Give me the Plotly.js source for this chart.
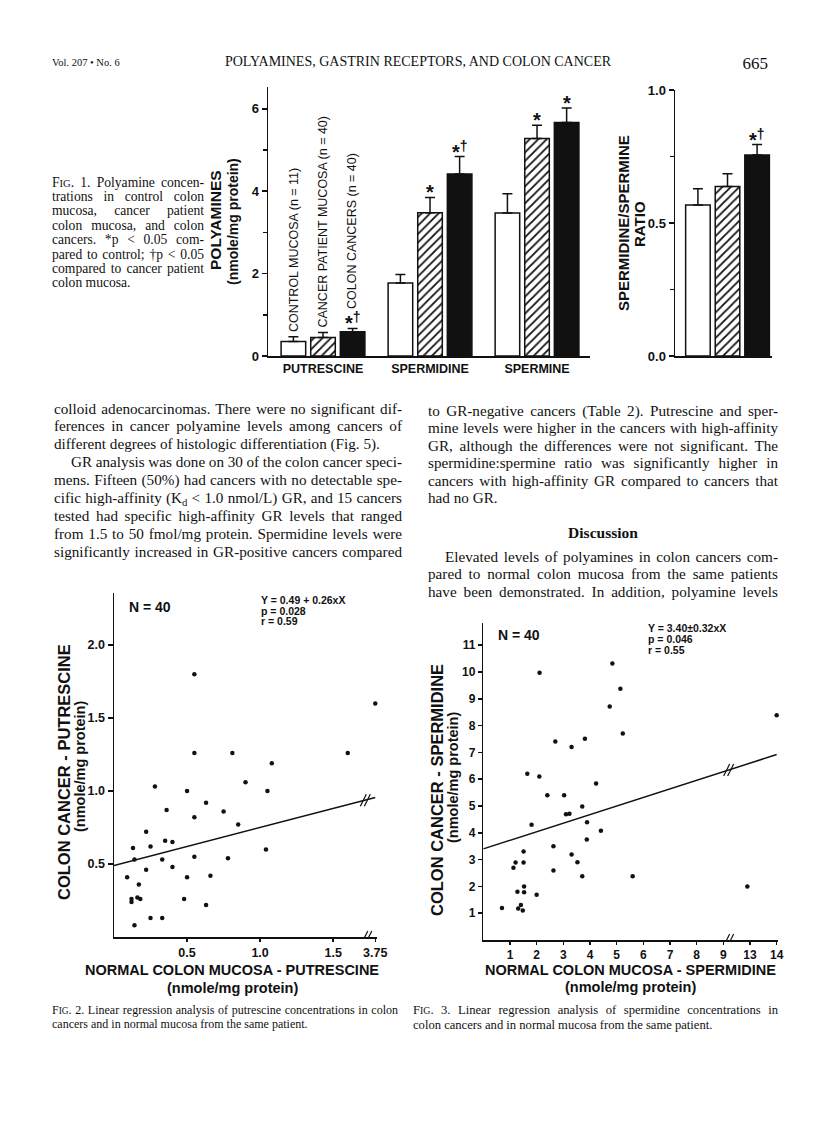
<!DOCTYPE html>
<html>
<head>
<meta charset="utf-8">
<script src="https://cdn.plot.ly/plotly-3.0.1.min.js"></script>
<style>
  body { margin: 0; background: #fff; }
  #page { position: relative; width: 816px; height: 1134px; overflow: hidden; background: #fff; }
  #plot { position: absolute; left: 0; top: 0; width: 816px; height: 1134px; }
  .ln { position: absolute; font-family: 'Liberation Serif', 'Times New Roman', serif; color: #111; white-space: nowrap; }
  .sc { font-size: 78%; }
  sub { font-size: 70%; line-height: 0; vertical-align: -0.25em; }
</style>
</head>
<body>
<div id="page"><div id="plot"></div></div>
<script>
// Fig. 1 - polyamine levels (nmole/mg protein), mean and upper error
var polyCats = ['PUTRESCINE', 'SPERMIDINE', 'SPERMINE'];
var groupNames = ['CONTROL MUCOSA (n = 11)', 'CANCER PATIENT MUCOSA (n = 40)', 'COLON CANCERS (n = 40)'];
var controlMean = [0.35, 1.77, 3.47];
var controlErr = [0.12, 0.21, 0.47];
var controlSig = ['', '', ''];
var patientMean = [0.45, 3.48, 5.28];
var patientErr = [0.12, 0.37, 0.32];
var patientSig = ['', '*', '*'];
var cancerMean = [0.59, 4.42, 5.67];
var cancerErr = [0.08, 0.42, 0.35];
var cancerSig = ['*†', '*†', '*'];

// Fig. 1 - spermidine/spermine ratio
var ratioCat = ['RATIO'];
var ratioMean = [0.568, 0.637, 0.756];
var ratioErr = [0.061, 0.048, 0.039];
var ratioSig = ['', '', '*†'];

// Fig. 2 - putrescine, normal mucosa (x) vs cancer (y)
var putX = [0.55, 3.75, 0.55, 0.81, 1.60, 1.08, 0.90, 0.28, 0.50, 1.05, 0.63, 0.36, 0.75, 0.55, 0.85, 0.22, 0.35, 0.40, 0.13, 0.25,
            1.04, 0.14, 0.33, 0.55, 0.78, 0.40, 0.22, 0.09, 0.50, 0.66, 0.17, 0.12, 0.16, 0.12, 0.18, 0.48, 0.63, 0.25, 0.33, 0.14];
var putY = [1.80, 1.60, 1.26, 1.26, 1.26, 1.19, 1.06, 1.03, 1.00, 1.00, 0.92, 0.87, 0.86, 0.82, 0.77, 0.72, 0.66, 0.65, 0.61, 0.62,
            0.60, 0.53, 0.53, 0.55, 0.54, 0.48, 0.46, 0.41, 0.41, 0.42, 0.36, 0.26, 0.27, 0.24, 0.26, 0.26, 0.22, 0.13, 0.13, 0.08];
var putIntercept = 0.49;
var putSlope = 0.26;
var putP = '0.028';
var putR = '0.59';
var putTicks = [0.5, 1.0, 1.5, 3.75];

// Fig. 3 - spermidine, normal mucosa (x) vs cancer (y)
var spdX = [0.70, 1.13, 1.21, 1.28, 1.31, 1.41, 1.48, 1.51, 1.51, 1.53, 1.53, 1.65, 1.81, 2.00, 2.10, 2.40, 2.63, 2.63, 2.70, 3.03,
            3.10, 3.23, 3.31, 3.31, 3.53, 3.71, 3.71, 3.81, 3.89, 3.88, 4.23, 4.41, 4.74, 5.23, 5.60, 12.9, 14.0, 2.11, 4.84, 5.14];
var spdY = [1.19, 2.70, 2.89, 1.80, 1.18, 1.31, 1.10, 3.30, 2.89, 2.00, 1.78, 6.20, 4.30, 1.69, 6.10, 5.40, 3.50, 2.59, 7.41, 5.40,
            4.69, 4.71, 7.20, 3.19, 2.90, 4.98, 2.38, 7.51, 4.39, 3.75, 5.84, 4.08, 8.71, 7.71, 2.38, 2.00, 8.39, 9.97, 10.32, 9.38];
var spdIntercept = 3.40;
var spdSlope = 0.32;
var spdP = '0.046';
var spdR = '0.55';
var spdTicks = [1, 2, 3, 4, 5, 6, 7, 8, 9, 13, 14];
var spdYTicks = [1, 2, 3, 4, 5, 6, 7, 8, 9, 10, 11];

// broken x axes
function putPos(v) { return v > 1.75 ? 1.788 + (v - 3.75) : v; }
function spdPos(v) { return v > 9.5 ? v - 3 : v; }

var PW = 816, PH = 1134;
function px(x) { return x / PW; }
function py(y) { return 1 - y / PH; }

var INK = '#111';
var SANS = 'Liberation Sans, Arial, sans-serif';
var BARGAP = 0.17;
var slot = (1 - BARGAP) / 3;

var barStyles = [
  { color: 'white', line: { color: INK, width: 1.5 } },
  { color: 'white', line: { color: INK, width: 1.5 },
    pattern: { shape: '/', fgcolor: INK, bgcolor: 'white', size: 6, solidity: 0.3 } },
  { color: INK, line: { color: INK, width: 1.5 } }
];

function errBars(err) {
  return { type: 'data', symmetric: false, array: err, arrayminus: err.map(function () { return 0; }),
           color: INK, thickness: 1.5, width: 5 };
}

var means = [controlMean, patientMean, cancerMean];
var errs = [controlErr, patientErr, cancerErr];
var sigs = [controlSig, patientSig, cancerSig];

var traces = [];
var annotations = [];

function sigNote(xref, yref, x, y, s) {
  return { xref: xref, yref: yref, x: x, y: y, text: s.replace('†', '<sup>†</sup>'), showarrow: false,
           xanchor: 'center', yanchor: 'bottom', yshift: -7, borderpad: 0,
           font: { family: SANS, size: 20, color: INK, weight: 'bold' } };
}

for (var k = 0; k < 3; k++) {
  traces.push({ type: 'bar', x: polyCats, y: means[k], error_y: errBars(errs[k]), marker: barStyles[k],
                xaxis: 'x', yaxis: 'y', hoverinfo: 'skip' });
  traces.push({ type: 'bar', x: ratioCat, y: [ratioMean[k]], error_y: errBars([ratioErr[k]]), marker: barStyles[k],
                xaxis: 'x2', yaxis: 'y2', hoverinfo: 'skip' });
  for (var c = 0; c < polyCats.length; c++) {
    if (sigs[k][c]) annotations.push(sigNote('x', 'y', c + (k - 1) * slot, means[k][c] + errs[k][c], sigs[k][c]));
  }
  if (ratioSig[k]) annotations.push(sigNote('x2', 'y2', (k - 1) * slot, ratioMean[k] + ratioErr[k], ratioSig[k]));
  annotations.push({ xref: 'x', yref: 'y', x: (k - 1) * slot, y: means[k][0] + errs[k][0], text: groupNames[k],
                     textangle: -90, showarrow: false, xanchor: 'center', yanchor: 'bottom', borderpad: 0,
                     yshift: sigs[k][0] ? 18 : 4, font: { family: SANS, size: 12.5, color: INK } });
}

// scatter plots with regression lines
var putEnd = putPos(3.75);
var spdEnd = spdPos(14);
traces.push({ type: 'scatter', mode: 'lines', x: [0, putEnd], y: [putIntercept, putIntercept + putSlope * putEnd],
              line: { color: INK, width: 1.5 }, xaxis: 'x3', yaxis: 'y3', hoverinfo: 'skip' });
traces.push({ type: 'scatter', mode: 'markers', x: putX.map(putPos), y: putY, cliponaxis: false,
              marker: { size: 4.5, color: INK }, xaxis: 'x3', yaxis: 'y3', hoverinfo: 'skip' });
traces.push({ type: 'scatter', mode: 'lines', x: [0, spdEnd], y: [spdIntercept, spdIntercept + spdSlope * spdEnd],
              line: { color: INK, width: 1.5 }, xaxis: 'x4', yaxis: 'y4', hoverinfo: 'skip' });
traces.push({ type: 'scatter', mode: 'markers', x: spdX.map(spdPos), y: spdY, cliponaxis: false,
              marker: { size: 4.5, color: INK }, xaxis: 'x4', yaxis: 'y4', hoverinfo: 'skip' });

// break marks "//"
var shapes = [];
function breakMark(xref, yref, x, y) {
  [-2, 2].forEach(function (d) {
    shapes.push({ type: 'line', xref: xref, yref: yref, xsizemode: 'pixel', ysizemode: 'pixel',
                  xanchor: x, yanchor: y, x0: d - 3, x1: d + 3, y0: -6, y1: 6,
                  line: { color: INK, width: 1.2 } });
  });
}
breakMark('x3', 'y3', 1.73, 0);
breakMark('x3', 'y3', 1.72, putIntercept + putSlope * 1.72);
breakMark('x4', 'y4', 9.2, 0);
breakMark('x4', 'y4', 9.2, spdIntercept + spdSlope * 9.2);

function label(text, x, y, size, opts) {
  opts = opts || {};
  annotations.push({ xref: 'paper', yref: 'paper', x: px(x), y: py(y), text: text, showarrow: false,
                     textangle: opts.angle || 0, xanchor: opts.xanchor || 'center', yanchor: 'middle', borderpad: 0,
                     font: { family: SANS, size: size, color: INK, weight: opts.normal ? 'normal' : 'bold' } });
}

label('POLYAMINES', 215, 220, 15.5, { angle: -90 });
label('(nmole/mg protein)', 233, 222, 14, { angle: -90 });
label('SPERMIDINE/SPERMINE', 623, 223, 15, { angle: -90 });
label('RATIO', 639, 224, 15, { angle: -90 });

label('COLON CANCER - PUTRESCINE', 64, 772, 16.5, { angle: -90 });
label('(nmole/mg protein)', 80, 767, 14.5, { angle: -90 });
label('NORMAL COLON MUCOSA - PUTRESCINE', 232, 970, 14.5);
label('(nmole/mg protein)', 232, 988, 14.5);
label('N = 40', 128, 607, 14, { xanchor: 'left' });
label('Y = ' + putIntercept.toFixed(2) + ' + ' + putSlope.toFixed(2) + 'xX', 260, 600, 10.5, { xanchor: 'left' });
label('p = ' + putP, 260, 611, 10.5, { xanchor: 'left' });
label('r = ' + putR, 260, 621, 10.5, { xanchor: 'left' });

label('COLON CANCER - SPERMIDINE', 437, 790, 16.5, { angle: -90 });
label('(nmole/mg protein)', 453, 778, 14.5, { angle: -90 });
label('NORMAL COLON MUCOSA - SPERMIDINE', 630, 970, 14.5);
label('(nmole/mg protein)', 630, 987, 14.5);
label('N = 40', 497, 635, 14, { xanchor: 'left' });
label('Y = ' + spdIntercept.toFixed(2) + '±' + spdSlope.toFixed(2) + 'xX', 647, 628, 10.5, { xanchor: 'left' });
label('p = ' + spdP, 647, 639, 10.5, { xanchor: 'left' });
label('r = ' + spdR, 647, 650, 10.5, { xanchor: 'left' });

function axis(o) {
  var base = { showline: true, linecolor: INK, linewidth: 1.5, showgrid: false, zeroline: false,
               ticks: 'outside', ticklen: 5, tickwidth: 1.5, tickcolor: INK, fixedrange: true,
               tickfont: { family: SANS, size: 13, color: INK, weight: 'bold' } };
  for (var key in o) base[key] = o[key];
  return base;
}
var minorTicks = function (vals) {
  return { tickvals: vals, ticks: 'outside', ticklen: 4, tickwidth: 1.5, tickcolor: INK };
};

var layout = {
  width: PW, height: PH,
  margin: { l: 0, r: 0, t: 0, b: 0 },
  paper_bgcolor: 'rgba(0,0,0,0)', plot_bgcolor: 'rgba(0,0,0,0)',
  showlegend: false,
  barmode: 'group', bargap: BARGAP, bargroupgap: 0.17,
  font: { family: SANS, color: INK },
  xaxis: axis({ domain: [px(268), px(590)], anchor: 'y', type: 'category', range: [-0.514, 2.495],
                ticks: '', linewidth: 2, tickfont: { family: SANS, size: 12.5, color: INK, weight: 'bold' } }),
  yaxis: axis({ domain: [py(356), py(87)], anchor: 'x', range: [0, 6.53], tickvals: [0, 2, 4, 6],
                minor: minorTicks([1, 3, 5]) }),
  xaxis2: axis({ domain: [px(675), px(772)], anchor: 'y2', type: 'category', range: [-0.491, 0.416],
                 ticks: '', showticklabels: false, linewidth: 2 }),
  yaxis2: axis({ domain: [py(356), py(90)], anchor: 'x2', range: [0, 1], tickvals: [0, 0.5, 1],
                 ticktext: ['0.0', '0.5', '1.0'], minor: minorTicks([0.25, 0.75]) }),
  xaxis3: axis({ domain: [px(114), px(377)], anchor: 'y3', range: [0, 1.8], ticklen: 3,
                 tickvals: putTicks.map(putPos), ticktext: ['0.5', '1.0', '1.5', '3.75'],
                 tickfont: { family: SANS, size: 12.5, color: INK, weight: 'bold' } }),
  yaxis3: axis({ domain: [py(937), py(593)], anchor: 'x3', range: [0, 2.356], tickvals: [0.5, 1, 1.5, 2],
                 ticktext: ['0.5', '1.0', '1.5', '2.0'], tickfont: { family: SANS, size: 12.5, color: INK, weight: 'bold' } }),
  xaxis4: axis({ domain: [px(483.3), px(778)], anchor: 'y4', range: [0, 11.05], ticklen: 3,
                 tickvals: spdTicks.map(spdPos), ticktext: spdTicks.map(String),
                 tickfont: { family: SANS, size: 12, color: INK, weight: 'bold' } }),
  yaxis4: axis({ domain: [py(940), py(623)], anchor: 'x4', range: [0, 11.83], ticklen: 4,
                 tickvals: spdYTicks, tickfont: { family: SANS, size: 12, color: INK, weight: 'bold' } }),
  shapes: shapes,
  annotations: annotations
};

Plotly.newPlot('plot', traces, layout, { staticPlot: true, displayModeBar: false });

// page text
var page = document.getElementById('page');
function textLine(html, x, y, size, width, opts) {
  opts = opts || {};
  var d = document.createElement('div');
  d.className = 'ln';
  d.innerHTML = html;
  d.style.fontSize = size + 'px';
  d.style.lineHeight = Math.round(size * 1.25) + 'px';
  d.style.top = (y - Math.round(size * 1.25) / 2) + 'px';
  if (opts.bold) d.style.fontWeight = 'bold';
  page.appendChild(d);
  var w = d.getBoundingClientRect().width;
  if (opts.justify) {
    var spaces = d.textContent.split(' ').length - 1;
    if (spaces > 0) d.style.wordSpacing = ((width - w) / spaces) + 'px';
  }
  if (opts.align === 'center') x = x - w / 2;
  if (opts.align === 'right') x = x - w;
  d.style.left = x + 'px';
}
function block(lines, x, y0, lh, size, width) {
  lines.forEach(function (l, i) {
    var indent = l[2] || 0;
    textLine(l[0], x + indent, y0 + i * lh, size, width - indent, { justify: l[1] });
  });
}

textLine('Vol. 207 • No. 6', 52, 62, 10.5, 0);
textLine('POLYAMINES, GASTRIN RECEPTORS, AND COLON CANCER', 418, 62, 14, 0, { align: 'center' });
textLine('665', 768, 63, 17, 0, { align: 'right' });

block([
  ['F<span class="sc">IG</span>. 1. Polyamine concen-', 1],
  ['trations in control colon', 1],
  ['mucosa, cancer patient', 1],
  ['colon mucosa, and colon', 1],
  ['cancers. *p &lt; 0.05 com-', 1],
  ['pared to control; †p &lt; 0.05', 1],
  ['compared to cancer patient', 1],
  ['colon mucosa.', 0]
], 52, 182, 14.4, 13.6, 152);

block([
  ['colloid adenocarcinomas. There were no significant dif-', 1],
  ['ferences in cancer polyamine levels among cancers of', 1],
  ['different degrees of histologic differentiation (Fig. 5).', 0],
  ['GR analysis was done on 30 of the colon cancer speci-', 1, 17],
  ['mens. Fifteen (50%) had cancers with no detectable spe-', 1],
  ['cific high-affinity (K<sub>d</sub> &lt; 1.0 nmol/L) GR, and 15 cancers', 1],
  ['tested had specific high-affinity GR levels that ranged', 1],
  ['from 1.5 to 50 fmol/mg protein. Spermidine levels were', 1],
  ['significantly increased in GR-positive cancers compared', 1]
], 54, 408, 17.9, 15.2, 348);

block([
  ['to GR-negative cancers (Table 2). Putrescine and sper-', 1],
  ['mine levels were higher in the cancers with high-affinity', 1],
  ['GR, although the differences were not significant. The', 1],
  ['spermidine:spermine ratio was significantly higher in', 1],
  ['cancers with high-affinity GR compared to cancers that', 1],
  ['had no GR.', 0]
], 428, 410, 17.5, 15.2, 350);
textLine('Discussion', 603, 532, 15.5, 0, { align: 'center', bold: true });
block([
  ['Elevated levels of polyamines in colon cancers com-', 1, 17],
  ['pared to normal colon mucosa from the same patients', 1],
  ['have been demonstrated. In addition, polyamine levels', 1]
], 428, 556, 17.9, 15.2, 350);

block([
  ['F<span class="sc">IG</span>. 2. Linear regression analysis of putrescine concentrations in colon', 1],
  ['cancers and in normal mucosa from the same patient.', 0]
], 52, 1010, 14.5, 12, 346);
block([
  ['F<span class="sc">IG</span>. 3. Linear regression analysis of spermidine concentrations in', 1],
  ['colon cancers and in normal mucosa from the same patient.', 0]
], 413, 1010, 14.5, 12.6, 365);
</script>
</body>
</html>
